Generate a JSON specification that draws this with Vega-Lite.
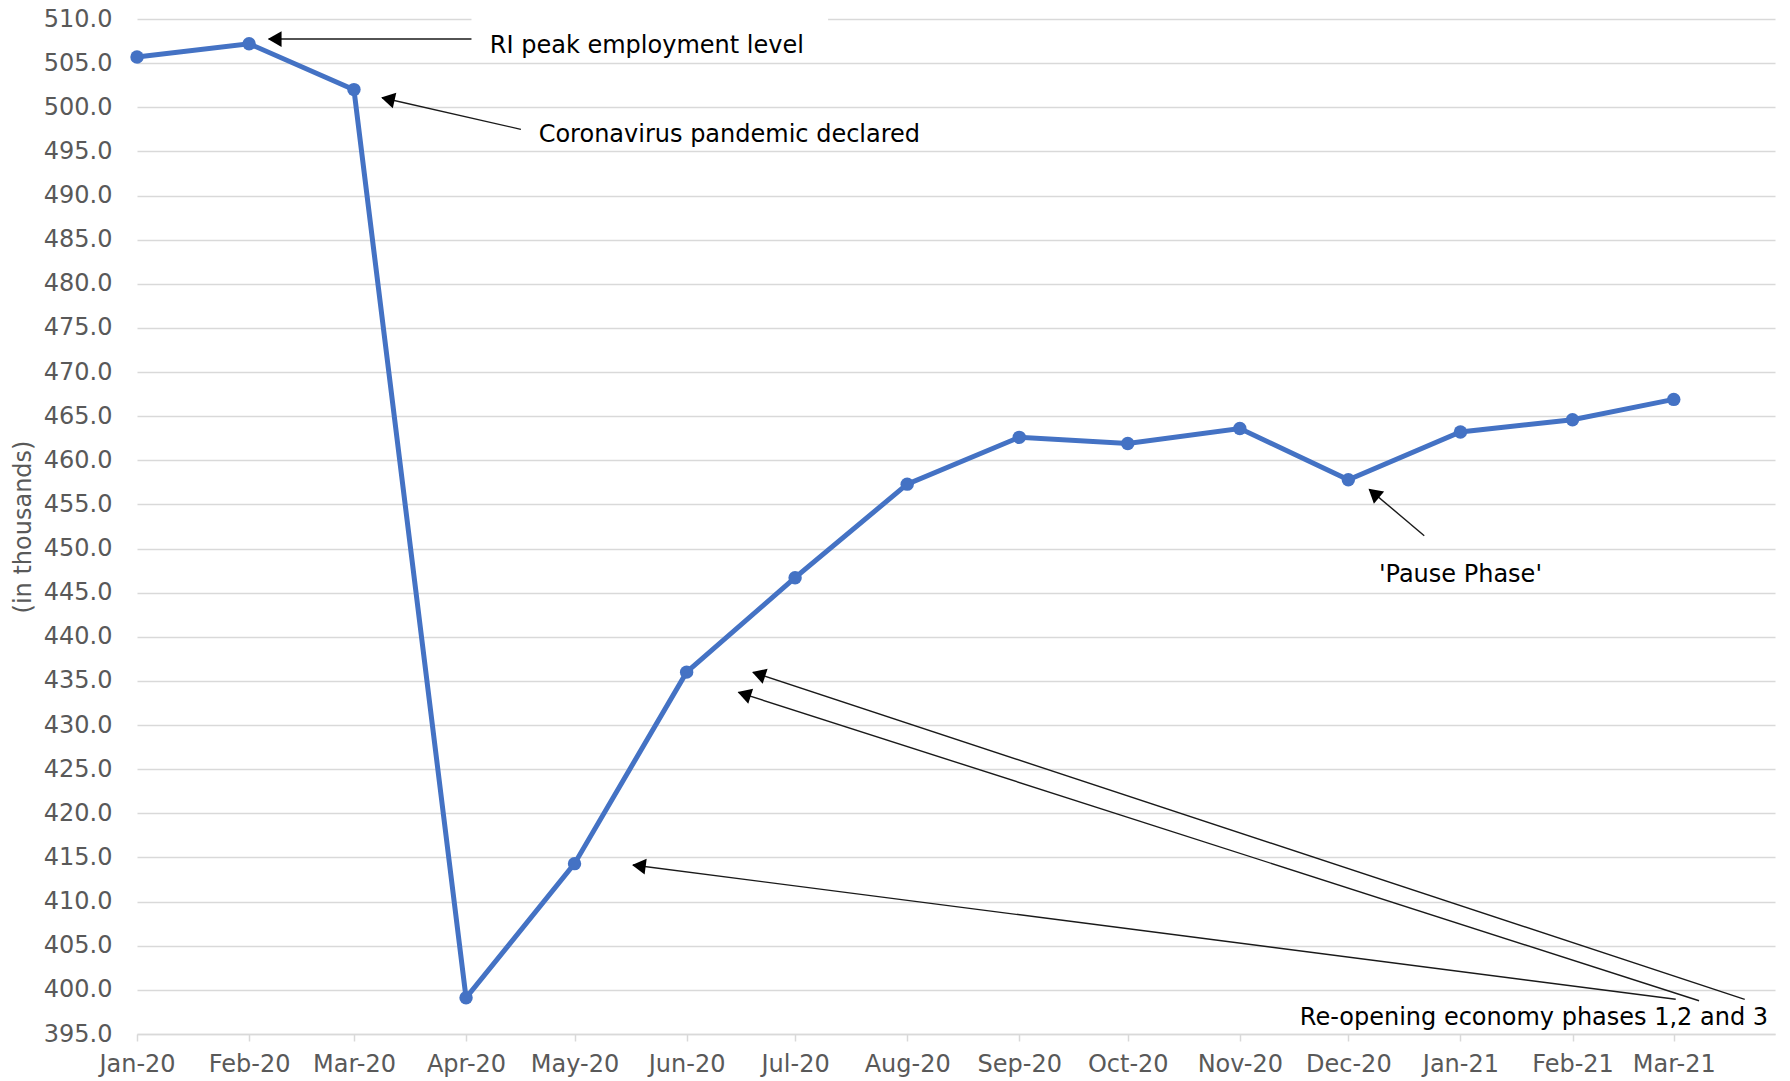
{
  "$schema": "https://vega.github.io/schema/vega-lite/v6.json",
  "width": 1638,
  "height": 1015,
  "autosize": {"type": "none"},
  "padding": {"left": 137, "top": 19, "right": 15, "bottom": 47},
  "background": "white",
  "config": {
    "view": {"stroke": null},
    "font": "DejaVu Sans",
    "axisY": {
      "grid": true, "gridColor": "#d9d9d9", "gridWidth": 1.5,
      "domain": false, "ticks": false, "tickSize": 0,
      "labelPadding": 25, "labelFontSize": 24, "labelColor": "#595959", "labelFont": "DejaVu Sans",
      "titleFontSize": 24, "titleFontWeight": "normal", "titleColor": "#595959", "titleFont": "DejaVu Sans", "titlePadding": 8
    },
    "axisX": {
      "grid": false, "domain": true, "domainColor": "#d9d9d9", "domainWidth": 1.5,
      "ticks": true, "tickColor": "#d9d9d9", "tickWidth": 1.5, "tickSize": 7,
      "labelPadding": 11, "labelFontSize": 24, "labelColor": "#595959", "labelFont": "DejaVu Sans",
      "labelFlush": false, "labelOverlap": false, "labelBound": false
    }
  },
  "datasets": {
    "series": [
      {"date": "2020-01-01", "value": 505.7},
      {"date": "2020-02-01", "value": 507.2},
      {"date": "2020-03-01", "value": 502.0},
      {"date": "2020-04-01", "value": 399.1},
      {"date": "2020-05-01", "value": 414.3},
      {"date": "2020-06-01", "value": 436.0},
      {"date": "2020-07-01", "value": 446.7},
      {"date": "2020-08-01", "value": 457.3},
      {"date": "2020-09-01", "value": 462.6},
      {"date": "2020-10-01", "value": 461.9},
      {"date": "2020-11-01", "value": 463.6},
      {"date": "2020-12-01", "value": 457.8},
      {"date": "2021-01-01", "value": 463.2},
      {"date": "2021-02-01", "value": 464.6},
      {"date": "2021-03-01", "value": 466.9}
    ],
    "arrows": [
      {"id": "peak", "date": "2020-04-02T12:00:00Z", "value": 507.73, "date2": "2020-02-06T10:00:00Z", "value2": 507.73},
      {"id": "covid", "date": "2020-04-16T04:00:00Z", "value": 497.5, "date2": "2020-03-08T19:00:00Z", "value2": 501.08},
      {"id": "pause", "date": "2020-12-22T00:00:00Z", "value": 451.46, "date2": "2020-12-06T19:00:00Z", "value2": 456.71},
      {"id": "p1", "date": "2021-03-20T15:00:00Z", "value": 398.93, "date2": "2020-06-19T08:00:00Z", "value2": 435.98},
      {"id": "p2", "date": "2021-03-08T00:00:00Z", "value": 398.77, "date2": "2020-06-15T08:00:00Z", "value2": 433.71},
      {"id": "p3", "date": "2021-03-01T13:00:00Z", "value": 398.93, "date2": "2020-05-17T04:00:00Z", "value2": 414.15}
    ],
    "heads": [
      {"id": "peak", "date": "2020-02-08T02:00:00Z", "value": 507.73},
      {"id": "covid", "date": "2020-03-10T09:00:00Z", "value": 500.94},
      {"id": "pause", "date": "2020-12-08T01:00:00Z", "value": 456.27},
      {"id": "p1", "date": "2020-06-20T22:00:00Z", "value": 435.77},
      {"id": "p2", "date": "2020-06-16T22:00:00Z", "value": 433.51},
      {"id": "p3", "date": "2020-05-18T19:00:00Z", "value": 414.06}
    ],
    "labelsLeft": [
      {"text": "RI peak employment level", "date": "2020-04-07T14:00:00Z", "value": 506.11},
      {"text": "Coronavirus pandemic declared", "date": "2020-04-21T02:00:00Z", "value": 496.1},
      {"text": "'Pause Phase'", "date": "2020-12-09T11:00:00Z", "value": 446.25}
    ],
    "labelsRight": [
      {"text": "Re-opening economy phases 1,2 and 3", "date": "2021-03-27T02:00:00Z", "value": 396.02}
    ],
    "mask": [
      {"date": "2020-04-02T12:00:00Z", "date2": "2020-07-10T03:00:00Z", "value": 509.4, "value2": 510.6}
    ]
  },
  "encoding": {
    "x": {
      "field": "date", "type": "temporal",
      "scale": {"type": "utc", "domain": [{"year": 2020, "month": 1, "date": 1, "utc": true}, {"year": 2021, "month": 3, "date": 29, "utc": true}]},
      "axis": {
        "title": null,
        "labelExpr": "utcFormat(datum.value, '%b-%y')",
        "values": [
          {"year": 2020, "month": 1, "date": 1, "utc": true},
          {"year": 2020, "month": 2, "date": 1, "utc": true},
          {"year": 2020, "month": 3, "date": 1, "utc": true},
          {"year": 2020, "month": 4, "date": 1, "utc": true},
          {"year": 2020, "month": 5, "date": 1, "utc": true},
          {"year": 2020, "month": 6, "date": 1, "utc": true},
          {"year": 2020, "month": 7, "date": 1, "utc": true},
          {"year": 2020, "month": 8, "date": 1, "utc": true},
          {"year": 2020, "month": 9, "date": 1, "utc": true},
          {"year": 2020, "month": 10, "date": 1, "utc": true},
          {"year": 2020, "month": 11, "date": 1, "utc": true},
          {"year": 2020, "month": 12, "date": 1, "utc": true},
          {"year": 2021, "month": 1, "date": 1, "utc": true},
          {"year": 2021, "month": 2, "date": 1, "utc": true},
          {"year": 2021, "month": 3, "date": 1, "utc": true}
        ]
      }
    },
    "y": {
      "field": "value", "type": "quantitative",
      "scale": {"domain": [395, 510], "nice": false, "zero": false},
      "axis": {
        "title": "(in thousands)", "format": ".1f",
        "values": [395, 400, 405, 410, 415, 420, 425, 430, 435, 440, 445, 450, 455, 460, 465, 470, 475, 480, 485, 490, 495, 500, 505, 510]
      }
    }
  },
  "layer": [
    {
      "data": {"name": "mask"},
      "mark": {"type": "rect", "color": "white"},
      "encoding": {"x2": {"field": "date2"}, "y2": {"field": "value2"}}
    },
    {
      "data": {"name": "series"},
      "mark": {"type": "line", "color": "#4472C4", "strokeWidth": 5, "point": {"filled": true, "size": 180, "color": "#4472C4"}}
    },
    {
      "data": {"name": "arrows"},
      "mark": {"type": "rule", "color": "#1a1a1a", "strokeWidth": 1.4},
      "encoding": {"x2": {"field": "date2"}, "y2": {"field": "value2"}}
    },
    {
      "data": {"name": "heads"},
      "transform": [{"filter": "datum.id === 'peak'"}],
      "mark": {"type": "point", "shape": "triangle-up", "filled": true, "color": "#000000", "size": 250, "angle": 270, "opacity": 1}
    },
    {
      "data": {"name": "heads"},
      "transform": [{"filter": "datum.id === 'covid'"}],
      "mark": {"type": "point", "shape": "triangle-up", "filled": true, "color": "#000000", "size": 250, "angle": 282.8, "opacity": 1}
    },
    {
      "data": {"name": "heads"},
      "transform": [{"filter": "datum.id === 'pause'"}],
      "mark": {"type": "point", "shape": "triangle-up", "filled": true, "color": "#000000", "size": 250, "angle": 310.2, "opacity": 1}
    },
    {
      "data": {"name": "heads"},
      "transform": [{"filter": "datum.id === 'p1'"}],
      "mark": {"type": "point", "shape": "triangle-up", "filled": true, "color": "#000000", "size": 250, "angle": 288.2, "opacity": 1}
    },
    {
      "data": {"name": "heads"},
      "transform": [{"filter": "datum.id === 'p2'"}],
      "mark": {"type": "point", "shape": "triangle-up", "filled": true, "color": "#000000", "size": 250, "angle": 287.8, "opacity": 1}
    },
    {
      "data": {"name": "heads"},
      "transform": [{"filter": "datum.id === 'p3'"}],
      "mark": {"type": "point", "shape": "triangle-up", "filled": true, "color": "#000000", "size": 250, "angle": 277.3, "opacity": 1}
    },
    {
      "data": {"name": "labelsLeft"},
      "mark": {"type": "text", "align": "left", "baseline": "alphabetic", "fontSize": 24, "font": "DejaVu Sans", "color": "#000000"},
      "encoding": {"text": {"field": "text"}}
    },
    {
      "data": {"name": "labelsRight"},
      "mark": {"type": "text", "align": "right", "baseline": "alphabetic", "fontSize": 24, "font": "DejaVu Sans", "color": "#000000"},
      "encoding": {"text": {"field": "text"}}
    }
  ]
}
